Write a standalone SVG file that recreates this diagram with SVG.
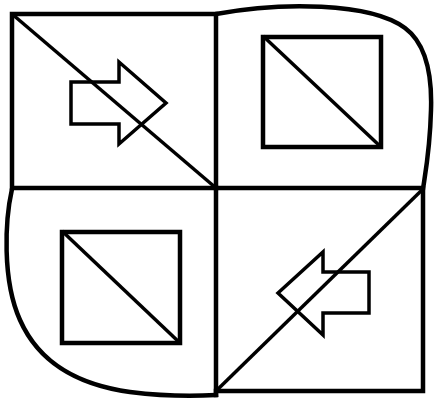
<svg xmlns="http://www.w3.org/2000/svg" width="434" height="401" viewBox="0 0 434 401">
<style>
.l{fill:none;stroke:#000;stroke-width:4.5;stroke-linejoin:miter;stroke-linecap:square}
.d{fill:none;stroke:#000;stroke-width:3.5}
</style>
<rect width="434" height="401" fill="#fff"/>
<g id="outline">
<path class="l" d="M12,14 H216 V188 H12 Z"/>
<path class="l" d="M216,14 C280,2 370,2 405,28 C428,45 432,80 431,110 C430,150 425,175 423,189"/>
<path class="l" d="M216,188 H423 V391 H216"/>
<path class="l" d="M216,188 V395"/>
<path class="l" d="M12,189 C5,220 2,280 20,320 C40,365 80,385 130,392 C170,397 200,396 216,395"/>
</g>
<g id="top-left">
<line class="d" x1="12" y1="14" x2="216" y2="188"/>
<path class="d" d="M71,82 H119 V62 L166,103 L119,144 V124 H71 Z"/>
</g>
<g id="top-right">
<rect class="l" x="263" y="37" width="118" height="110"/>
<line class="d" x1="263" y1="36" x2="381" y2="147"/>
</g>
<g id="bottom-left">
<rect class="l" x="62" y="232" width="118" height="111"/>
<line class="d" x1="62" y1="231" x2="180" y2="343"/>
</g>
<g id="bottom-right">
<line class="d" x1="216" y1="391" x2="423" y2="189"/>
<path class="d" d="M278,293 L323,252 V272 H369 V313 H323 V335 Z"/>
</g>
</svg>
